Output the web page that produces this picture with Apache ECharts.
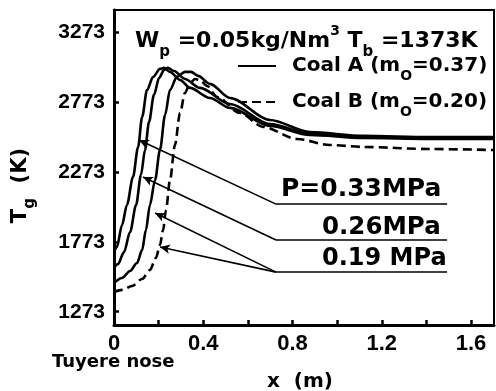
<!DOCTYPE html>
<html>
<head>
<meta charset="utf-8">
<script src="https://cdn.jsdelivr.net/npm/echarts@6/dist/echarts.min.js"></script>
<style>
  html, body { margin: 0; padding: 0; background: #fff; }
  #chart { width: 496px; height: 391px; }
</style>
</head>
<body>
<div id="chart"></div>
<script>
// Gas temperature along the raceway axis, x (m) from the tuyere nose
const xTicks = [0.2, 0.4, 0.6, 0.8, 1.0, 1.2, 1.4, 1.6];
const xLabels = [0, 0.4, 0.8, 1.2, 1.6];
const yTicks = [1273, 1773, 2273, 2773, 3273];

// Coal A (m0 = 0.37), P = 0.33 MPa
const coalA_033_x = [0, 0.013, 0.036, 0.058, 0.085, 0.108, 0.126, 0.148, 0.175, 0.206, 0.224, 0.251, 0.296, 0.341, 0.430, 0.520, 0.699, 0.878, 1.116, 1.416, 1.703];
const coalA_033_y = [1700, 1736, 1893, 2036, 2236, 2451, 2665, 2858, 2951, 3009, 3016, 2987, 2930, 2873, 2801, 2730, 2601, 2537, 2515, 2508, 2508];

// Coal A, P = 0.26 MPa
const coalA_026_x = [0, 0.018, 0.045, 0.072, 0.099, 0.121, 0.139, 0.157, 0.179, 0.202, 0.224, 0.242, 0.269, 0.318, 0.385, 0.520, 0.699, 0.878, 1.116, 1.416, 1.703];
const coalA_026_y = [1585, 1614, 1700, 1843, 2036, 2251, 2429, 2630, 2823, 2944, 3001, 3016, 2994, 2937, 2873, 2758, 2615, 2544, 2522, 2515, 2515];

// Coal A, P = 0.19 MPa
const coalA_019_x = [0, 0.036, 0.072, 0.103, 0.126, 0.143, 0.161, 0.184, 0.206, 0.229, 0.251, 0.282, 0.318, 0.345, 0.377, 0.430, 0.520, 0.699, 0.878, 1.116, 1.416, 1.703];
const coalA_019_y = [1478, 1514, 1564, 1621, 1714, 1857, 2036, 2215, 2430, 2680, 2859, 2952, 2988, 2988, 2959, 2902, 2801, 2644, 2558, 2530, 2522, 2522];

// Coal B (m0 = 0.20), P = 0.19 MPa
const coalB_019_x = [0, 0.036, 0.081, 0.126, 0.161, 0.188, 0.206, 0.220, 0.233, 0.251, 0.273, 0.296, 0.318, 0.341, 0.363, 0.385, 0.417, 0.462, 0.565, 0.668, 0.820, 0.968, 1.116, 1.416, 1.703];
const coalB_019_y = [1414, 1429, 1457, 1507, 1571, 1657, 1750, 1857, 2000, 2215, 2465, 2694, 2837, 2908, 2937, 2930, 2887, 2808, 2694, 2594, 2508, 2465, 2451, 2436, 2429];

// Pressure labels: arrow tip on the curve, elbow, and end of the underline
const pressureLabels = ['P=0.33MPa', '0.26MPa', '0.19 MPa'];
const leaderTips = [[[0.112, 2501]], [[0.130, 2236]], [[0.184, 1979], [0.206, 1736]]];
const leaderElbows = [[0.726, 2042], [0.726, 1785], [0.726, 1556]];
const leaderEndX = 1.493;

const FONT = 'Liberation Sans';
const WIDE = 'DejaVu Sans';

function pairs(xs, ys) { return xs.map((x, i) => [x, ys[i]]); }

function curve(name, xs, ys, dashed) {
  return {
    name: name,
    type: 'line',
    data: pairs(xs, ys),
    showSymbol: false,
    symbol: 'none',
    smooth: 0.3,
    smoothMonotone: 'x',
    lineStyle: { color: '#000', width: 2.6, type: dashed ? [9, 5] : 'solid' },
    itemStyle: { color: '#000' },
    silent: true,
    z: 3
  };
}

// leader lines drawn as mark lines in data coordinates
const leaderData = [];
leaderElbows.forEach((elbow, i) => {
  leaderData.push([
    { coord: elbow, symbol: 'none' },
    { coord: [leaderEndX, elbow[1]], symbol: 'none' }
  ]);
  leaderTips[i].forEach(tip => {
    leaderData.push([
      { coord: elbow, symbol: 'none' },
      { coord: tip, symbol: 'arrow' }
    ]);
  });
});

const series = [
  curve('Coal A', coalA_033_x, coalA_033_y, false),
  curve('Coal A', coalA_026_x, coalA_026_y, false),
  curve('Coal A', coalA_019_x, coalA_019_y, false),
  curve('Coal B', coalB_019_x, coalB_019_y, true)
];
series[0].markLine = {
  silent: true,
  animation: false,
  symbolSize: [7, 10],
  label: { show: false },
  lineStyle: { color: '#000', width: 1.6, type: 'solid' },
  data: leaderData
};

const chart = echarts.init(document.getElementById('chart'), null, { renderer: 'canvas' });

const titleRich = {
  t: { fontFamily: WIDE, fontSize: 22, fontWeight: 'bold', color: '#000' },
  s: { fontFamily: WIDE, fontSize: 15, fontWeight: 'bold', color: '#000', verticalAlign: 'bottom', padding: [0, 0, -8, 0] },
  u: { fontFamily: WIDE, fontSize: 14, fontWeight: 'bold', color: '#000', verticalAlign: 'top', padding: [-6, 0, 0, 0] }
};

chart.setOption({
  animation: false,
  backgroundColor: '#fff',
  title: {
    text: '{t|W}{s|p}{t| =0.05kg/Nm}{u|3}{t| T}{s|b}{t| =1373K}',
    left: 135,
    top: 30,
    padding: 0,
    textStyle: { rich: titleRich }
  },
  legend: {
    orient: 'vertical',
    left: 237,
    top: 56,
    itemWidth: 38,
    itemHeight: 14,
    itemGap: 9,
    padding: 0,
    data: ['Coal A', 'Coal B'],
    itemStyle: { opacity: 0 },
    formatter: function (name) {
      return name === 'Coal A' ? '{t|Coal A (m}{s|O}{t|=0.37)}' : '{t|Coal B (m}{s|O}{t|=0.20)}';
    },
    textStyle: {
      padding: [0, 0, 0, 11],
      rich: {
        t: { fontFamily: WIDE, fontSize: 20, fontWeight: 'bold', color: '#000' },
        s: { fontFamily: WIDE, fontSize: 14, fontWeight: 'bold', color: '#000', verticalAlign: 'bottom', padding: [0, 0, -7, 0] }
      }
    }
  },
  grid: {
    left: 114,
    right: 2,
    top: 10,
    bottom: 66,
    outerBoundsMode: 'none',
    containLabel: false,
    show: true,
    borderColor: '#000',
    borderWidth: 2,
    backgroundColor: 'transparent'
  },
  xAxis: {
    type: 'value',
    min: 0,
    max: 1.703,
    name: 'x  (m)',
    nameLocation: 'middle',
    nameGap: 47,
    nameTextStyle: { fontFamily: WIDE, fontSize: 20, fontWeight: 'bold', color: '#000', padding: [0, 8, 0, 0] },
    axisLine: { show: true, lineStyle: { color: '#000', width: 3 } },
    axisTick: { show: true, inside: true, length: 5, lineStyle: { color: '#000', width: 2.5 }, customValues: xTicks },
    axisLabel: {
      customValues: xLabels,
      fontFamily: FONT, fontSize: 22, fontWeight: 'bold', color: '#000', margin: 8,
      formatter: v => (v === 0 ? '0' : v.toFixed(1))
    },
    splitLine: { show: false }
  },
  yAxis: {
    type: 'value',
    min: 1178,
    max: 3430,
    axisLine: { show: true, lineStyle: { color: '#000', width: 3 } },
    axisTick: { show: true, inside: true, length: 5, lineStyle: { color: '#000', width: 2.5 }, customValues: yTicks },
    axisLabel: {
      customValues: yTicks,
      fontFamily: FONT, fontSize: 21, fontWeight: 'bold', color: '#000', margin: 9,
      formatter: v => String(Math.round(v))
    },
    splitLine: { show: false }
  },
  graphic: [
    {
      type: 'text', left: 10, top: 148, rotation: Math.PI / 2,
      style: {
        text: '{t|T}{s|g}{t|  (K)}',
        rich: {
          t: { fontFamily: WIDE, fontSize: 21, fontWeight: 'bold', fill: '#000' },
          s: { fontFamily: WIDE, fontSize: 15, fontWeight: 'bold', fill: '#000', verticalAlign: 'bottom', padding: [0, 0, -7, 0] }
        }
      }
    },
    {
      type: 'text', left: 52, top: 353,
      style: { text: 'Tuyere nose', fontFamily: WIDE, fontSize: 18, fontWeight: 'bold', fill: '#000' }
    },
    {
      type: 'text', left: 281, top: 177,
      style: { text: pressureLabels[0], fontFamily: WIDE, fontSize: 25, fontWeight: 'bold', fill: '#000' }
    },
    {
      type: 'text', left: 322, top: 215,
      style: { text: pressureLabels[1], fontFamily: WIDE, fontSize: 24.5, fontWeight: 'bold', fill: '#000' }
    },
    {
      type: 'text', left: 322, top: 247,
      style: { text: pressureLabels[2], fontFamily: WIDE, fontSize: 24, fontWeight: 'bold', fill: '#000' }
    }
  ],
  series: series
});
</script>
</body>
</html>
